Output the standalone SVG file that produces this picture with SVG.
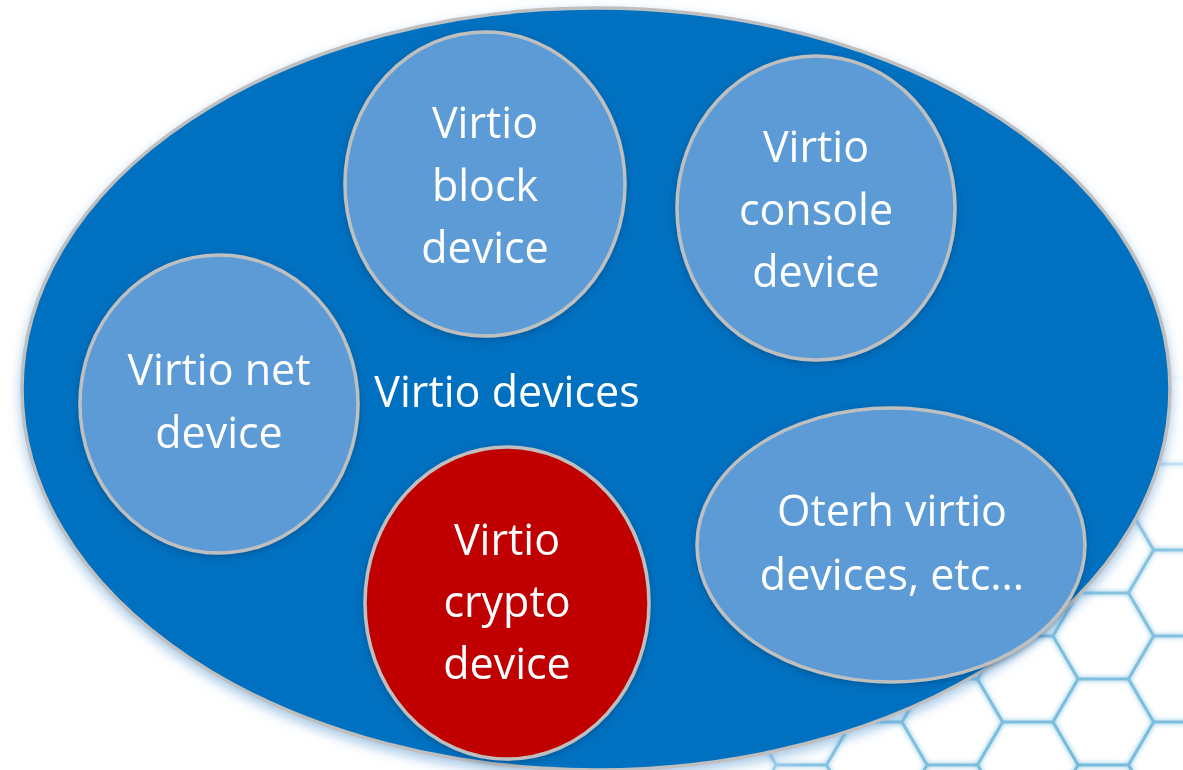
<svg xmlns="http://www.w3.org/2000/svg" xmlns:xlink="http://www.w3.org/1999/xlink" width="1183" height="770" viewBox="0 0 1183 770">
  <style>
    .hexline { fill: none; stroke: #72b9dc; stroke-width: 2.6; }
    .outer { fill: #0070C0; stroke: #BFBFBF; stroke-width: 3.5; }
    .dev { fill: #5B9BD5; stroke: #BFBFBF; stroke-width: 3.5; }
    .crypto { fill: #C00000; stroke: #BFBFBF; stroke-width: 3.5; }
    .lbl { font-family: "Open Sans", "Noto Sans", "DejaVu Sans", sans-serif; font-size: 43px; fill: #FFFFFF; text-anchor: middle; }
  </style>
  <defs>
    <path id="hx" d="M-50.3,0 L-25.2,-43 L25.2,-43 L50.3,0 L25.2,43 L-25.2,43 Z"/>
    <radialGradient id="fade" gradientUnits="userSpaceOnUse" cx="1080" cy="820" r="470">
      <stop offset="0" stop-color="#fff" stop-opacity="1"/>
      <stop offset="0.6" stop-color="#fff" stop-opacity="0.85"/>
      <stop offset="0.88" stop-color="#fff" stop-opacity="0.2"/>
      <stop offset="1" stop-color="#fff" stop-opacity="0"/>
    </radialGradient>
    <mask id="hexmask" maskUnits="userSpaceOnUse" x="0" y="0" width="1183" height="770">
      <rect x="0" y="0" width="1183" height="770" fill="url(#fade)"/>
    </mask>
    <filter id="hexglow" x="-10%" y="-10%" width="120%" height="120%">
      <feGaussianBlur in="SourceGraphic" stdDeviation="2.5" result="b"/>
      <feMerge><feMergeNode in="b"/><feMergeNode in="SourceGraphic"/></feMerge>
    </filter>
    <filter id="outerShadow" x="-5%" y="-5%" width="110%" height="115%">
      <feDropShadow dx="0" dy="5" stdDeviation="6" flood-color="#5B9BD5" flood-opacity="0.55"/>
    </filter>
    <filter id="devShadow" x="-10%" y="-10%" width="120%" height="120%">
      <feDropShadow dx="0" dy="2" stdDeviation="3" flood-color="#003a66" flood-opacity="0.45"/>
    </filter>
  </defs>

  <rect x="0" y="0" width="1183" height="770" fill="#FFFFFF"/>

  <g id="background-hexagons" mask="url(#hexmask)" filter="url(#hexglow)">
    <g class="hexline">
      <use xlink:href="#hx" x="801.3" y="550"/>
      <use xlink:href="#hx" x="801.3" y="636"/>
      <use xlink:href="#hx" x="801.3" y="722"/>
      <use xlink:href="#hx" x="801.3" y="808"/>
      <use xlink:href="#hx" x="876.8" y="507"/>
      <use xlink:href="#hx" x="876.8" y="593"/>
      <use xlink:href="#hx" x="876.8" y="679"/>
      <use xlink:href="#hx" x="876.8" y="765"/>
      <use xlink:href="#hx" x="952.3" y="464"/>
      <use xlink:href="#hx" x="952.3" y="550"/>
      <use xlink:href="#hx" x="952.3" y="636"/>
      <use xlink:href="#hx" x="952.3" y="722"/>
      <use xlink:href="#hx" x="952.3" y="808"/>
      <use xlink:href="#hx" x="1027.8" y="335"/>
      <use xlink:href="#hx" x="1027.8" y="421"/>
      <use xlink:href="#hx" x="1027.8" y="507"/>
      <use xlink:href="#hx" x="1027.8" y="593"/>
      <use xlink:href="#hx" x="1027.8" y="679"/>
      <use xlink:href="#hx" x="1027.8" y="765"/>
      <use xlink:href="#hx" x="1103.3" y="292"/>
      <use xlink:href="#hx" x="1103.3" y="378"/>
      <use xlink:href="#hx" x="1103.3" y="464"/>
      <use xlink:href="#hx" x="1103.3" y="550"/>
      <use xlink:href="#hx" x="1103.3" y="636"/>
      <use xlink:href="#hx" x="1103.3" y="722"/>
      <use xlink:href="#hx" x="1103.3" y="808"/>
      <use xlink:href="#hx" x="1178.8" y="249"/>
      <use xlink:href="#hx" x="1178.8" y="335"/>
      <use xlink:href="#hx" x="1178.8" y="421"/>
      <use xlink:href="#hx" x="1178.8" y="507"/>
      <use xlink:href="#hx" x="1178.8" y="593"/>
      <use xlink:href="#hx" x="1178.8" y="679"/>
      <use xlink:href="#hx" x="1178.8" y="765"/>
      <use xlink:href="#hx" x="1254.3" y="292"/>
      <use xlink:href="#hx" x="1254.3" y="378"/>
      <use xlink:href="#hx" x="1254.3" y="464"/>
      <use xlink:href="#hx" x="1254.3" y="550"/>
      <use xlink:href="#hx" x="1254.3" y="636"/>
      <use xlink:href="#hx" x="1254.3" y="722"/>
    </g>
  </g>

  <g id="virtio-devices">
    <ellipse class="outer" cx="596" cy="389" rx="574" ry="381" filter="url(#outerShadow)"/>
    <text class="lbl" x="507" y="407">Virtio devices</text>
  </g>

  <g id="connectors"></g>

  <g id="virtio-block-device" filter="url(#devShadow)">
    <ellipse class="dev" cx="485" cy="184" rx="140" ry="152"/>
    <text class="lbl" x="485" y="138">Virtio</text>
    <text class="lbl" x="485" y="201">block</text>
    <text class="lbl" x="485" y="263">device</text>
  </g>

  <g id="virtio-console-device" filter="url(#devShadow)">
    <ellipse class="dev" cx="816" cy="208" rx="139" ry="152"/>
    <text class="lbl" x="816" y="162">Virtio</text>
    <text class="lbl" x="816" y="225">console</text>
    <text class="lbl" x="816" y="287">device</text>
  </g>

  <g id="virtio-net-device" filter="url(#devShadow)">
    <ellipse class="dev" cx="219" cy="404" rx="139" ry="149"/>
    <text class="lbl" x="219" y="385">Virtio net</text>
    <text class="lbl" x="219" y="448">device</text>
  </g>

  <g id="virtio-crypto-device" filter="url(#devShadow)">
    <ellipse class="crypto" cx="507" cy="603" rx="142" ry="156"/>
    <text class="lbl" x="507" y="555">Virtio</text>
    <text class="lbl" x="507" y="617">crypto</text>
    <text class="lbl" x="507" y="679">device</text>
  </g>

  <g id="other-virtio-devices" filter="url(#devShadow)">
    <ellipse class="dev" cx="891" cy="545" rx="194" ry="137"/>
    <text class="lbl" x="892" y="526">Oterh virtio</text>
    <text class="lbl" x="892" y="590">devices, etc...</text>
  </g>
</svg>
